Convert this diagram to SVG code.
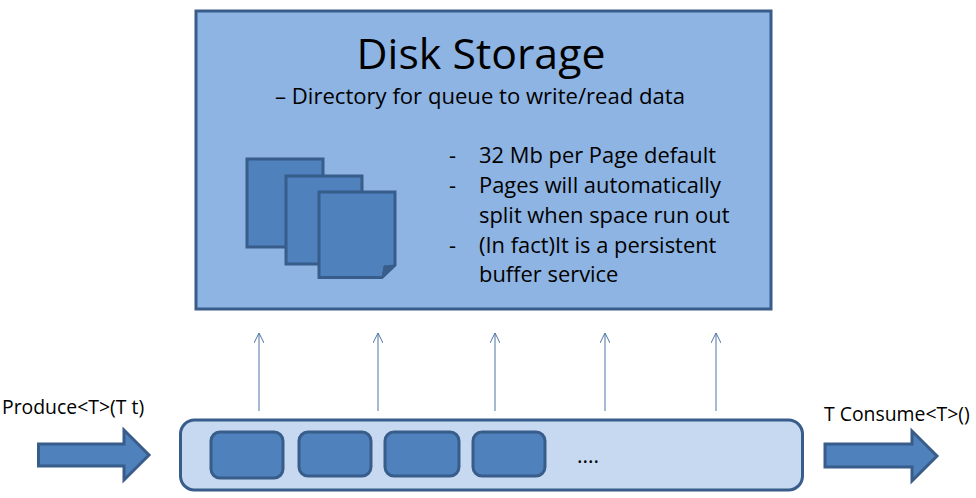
<svg xmlns="http://www.w3.org/2000/svg" width="976" height="498" viewBox="0 0 976 498">
<style>
text{font-family:"Open Sans","Liberation Sans",sans-serif;fill:#000}
.t{font-size:21.9px}
.s{font-size:19.4px}
.b{fill:#4f81bd;stroke:#385d8a;stroke-width:3}
.c{fill:#4f81bd;stroke:#385d8a;stroke-width:3}
.l{stroke:#4f75a5;stroke-width:1;fill:none;marker-end:url(#a)}
</style>
<defs><marker id="a" markerUnits="userSpaceOnUse" markerWidth="12" markerHeight="10" refX="11" refY="5" orient="auto"><path d="M1 0L11 5L1 10" fill="none" stroke="#4f75a5"/></marker></defs>
<rect width="976" height="498" fill="#fff"/>
<g id="disk">
<rect x="196" y="11" width="575" height="298" fill="#8eb4e3" stroke="#385d8a" stroke-width="3"/>
<text x="481" y="69" text-anchor="middle" style="font-size:42.8px">Disk Storage</text>
<text x="480" y="104" text-anchor="middle" style="font-size:22.1px">– Directory for queue to write/read data</text>
<path class="b" d="M247 159H323V247H247Z"/>
<path class="b" d="M286 176H362V264H286Z"/>
<path class="b" d="M319 192H395V265L382 277.500H319Z"/>
<path d="M382 277.500L384 266L395 265Z" fill="#385d8a" stroke="#385d8a"/>
<g class="t">
<text x="449" y="163">-</text><text x="479" y="163">32 Mb per Page default</text>
<text x="449" y="193">-</text><text x="479" y="193">Pages will automatically</text>
<text x="479" y="223">split when space run out</text>
<text x="449" y="253">-</text><text x="479" y="253">(In fact)It is a persistent</text>
<text x="479" y="282">buffer service</text>
</g>
</g>
<g id="connectors">
<path class="l" d="M259 411V333"/><path class="l" d="M378 411V333"/><path class="l" d="M495 411V333"/><path class="l" d="M605 411V333"/><path class="l" d="M716 411V333"/>
</g>
<g id="queue">
<rect x="180.500" y="420" width="622" height="70" rx="14" fill="#c6d9f1" stroke="#385d8a" stroke-width="3"/>
<rect class="c" x="211" y="432" width="72" height="46" rx="9"/>
<rect class="c" x="299" y="432" width="72" height="44" rx="9"/>
<rect class="c" x="385" y="432" width="74" height="44" rx="9"/>
<rect class="c" x="473" y="432" width="72" height="44" rx="9"/>
<text x="577" y="463" style="font-size:21px">....</text>
</g>
<g id="produce">
<text x="2" y="414" class="s">Produce&lt;T&gt;(T t)</text>
<path class="b" d="M38.500 444H124V430L149 455L124 480V466H38.500Z"/>
</g>
<g id="consume">
<text x="824" y="421" class="s">T Consume&lt;T&gt;()</text>
<path class="b" d="M825 444H912V431L937 456L912 481V467H825Z"/>
</g>
</svg>
